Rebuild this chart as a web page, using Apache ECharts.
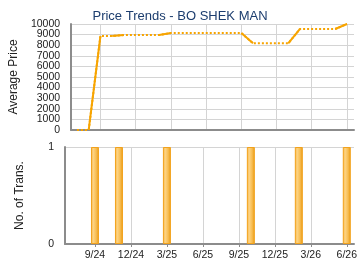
<!DOCTYPE html>
<html>
<head>
<meta charset="utf-8">
<script src="https://cdn.jsdelivr.net/npm/echarts@6/dist/echarts.min.js"></script>
<style>
html,body{margin:0;padding:0;background:#fff;}
#chart{width:360px;height:270px;}
</style>
</head>
<body>
<div id="chart"></div>
<script>
// Monthly data, July 2024 .. June 2026
var months = ['7/24','8/24','9/24','10/24','11/24','12/24','1/25','2/25','3/25','4/25','5/25','6/25',
              '7/25','8/25','9/25','10/25','11/25','12/25','1/26','2/26','3/26','4/26','5/26','6/26'];
var avgPrice = [0, 0, 8870, 8870, 8960, 8960, 8960, 8960, 9150, 9150, 9150, 9150,
                9150, 9150, 9150, 8180, 8180, 8180, 8180, 9530, 9530, 9530, 9530, 10000];
var transCount = [0, 0, 1, 0, 1, 0, 0, 0, 1, 0, 0, 0,
                  0, 0, 0, 1, 0, 0, 0, 1, 0, 0, 0, 1];
var tickLabels = ['9/24','12/24','3/25','6/25','9/25','12/25','3/26','6/26'];
var priceTicks = [0,1000,2000,3000,4000,5000,6000,7000,8000,9000,10000];
var transTicks = [0, 1];

var tickValues = tickLabels.map(function(l){ return months.indexOf(l); });
var FONT = 'Liberation Sans, Arial, sans-serif';
var ORANGE = '#f7a400';

var pricePoints = avgPrice.map(function(v,i){ return [i, v]; });
var series = [];
series.push({
  type:'line', xAxisIndex:0, yAxisIndex:0, data: pricePoints, symbol:'none',
  lineStyle:{color:ORANGE, width:2, type:[2,2]}, z:3, animation:false
});
// solid segments leading into months with transactions
for (var i = 1; i < months.length; i++) {
  if (transCount[i] > 0) {
    series.push({
      type:'line', xAxisIndex:0, yAxisIndex:0, data:[pricePoints[i-1], pricePoints[i]], symbol:'none',
      lineStyle:{color:ORANGE, width:2}, z:4, animation:false
    });
  }
}
var barData = [];
transCount.forEach(function(c,i){ if (c > 0) barData.push([i, c]); });
series.push({
  type:'bar', xAxisIndex:1, yAxisIndex:2, data: barData, barWidth:8, animation:false,
  itemStyle:{
    borderColor:'#f2a21c', borderWidth:1,
    color:{type:'linear', x:0, y:0, x2:1, y2:0, colorStops:[
      {offset:0, color:'#f6b443'},
      {offset:0.3, color:'#fdd382'},
      {offset:0.65, color:'#f7bd52'},
      {offset:1, color:'#e99811'}
    ]}
  }
});

var chart = echarts.init(document.getElementById('chart'), null, {renderer:'canvas'});
var xCommon = function(showLabels){
  return {
    type:'value', min:-0.5, max:23.6,
    axisLine:{show:true, onZero:false, lineStyle:{color:'#8c8c8c', width:2}},
    axisTick:{show:showLabels, customValues:tickValues, length:3, lineStyle:{color:'#8c8c8c'}},
    axisLabel:{show:showLabels, customValues:tickValues, color:'#222', fontFamily:FONT, fontSize:10.5, margin:6,
      formatter:function(v){ var k = tickValues.indexOf(Math.round(v)); return k >= 0 ? tickLabels[k] : ''; }},
    splitLine:{show:true, lineStyle:{color:'#d4d4d4', width:1}}
  };
};
var x0 = xCommon(false); x0.gridIndex = 0;
var x1 = xCommon(true); x1.gridIndex = 1;

function yAxisCfg(grid, name, allTicks, labelTicks, main){
  return {gridIndex:grid, type:'value', position:'left', offset:0,
     min:allTicks[0], max:allTicks[allTicks.length-1],
     name:main ? name : '', nameLocation:'middle', nameGap:39,
     nameTextStyle:{color:'#222', fontSize:12, fontFamily:FONT},
     axisLine:{show:main, onZero:false, lineStyle:{color:'#8c8c8c', width:2}},
     axisTick:{show:false, customValues:main ? allTicks : labelTicks},
     axisLabel:{color:'#222', fontFamily:FONT, fontSize:10.5, margin:11, hideOverlap:false,
       customValues:labelTicks, showMinLabel:true, showMaxLabel:true, formatter:function(v){ return String(v); }},
     splitLine:{show:main, lineStyle:{color:'#d4d4d4', width:1}}};
}
// price labels split over two overlaid axes so that none is dropped for overlap
var evenTicks = priceTicks.filter(function(v,i){ return i % 2 === 0; });
var oddTicks = priceTicks.filter(function(v,i){ return i % 2 === 1; });

chart.setOption({
  backgroundColor:'#fff',
  animation:false,
  title:{
    text:'Price Trends - BO SHEK MAN', left:'center', top:5,
    textStyle:{color:'#1c3d6e', fontSize:13, fontWeight:'normal', fontFamily:FONT}
  },
  grid:[
    {left:65, right:6, top:24, height:106},
    {left:65, right:6, top:147, height:97}
  ],
  xAxis:[x0, x1],
  yAxis:[
    yAxisCfg(0, 'Average Price', priceTicks, evenTicks, true),
    yAxisCfg(0, 'Average Price', priceTicks, oddTicks, false),
    yAxisCfg(1, 'No. of Trans.', transTicks, transTicks, true)
  ],
  series: series
});
</script>
</body>
</html>
